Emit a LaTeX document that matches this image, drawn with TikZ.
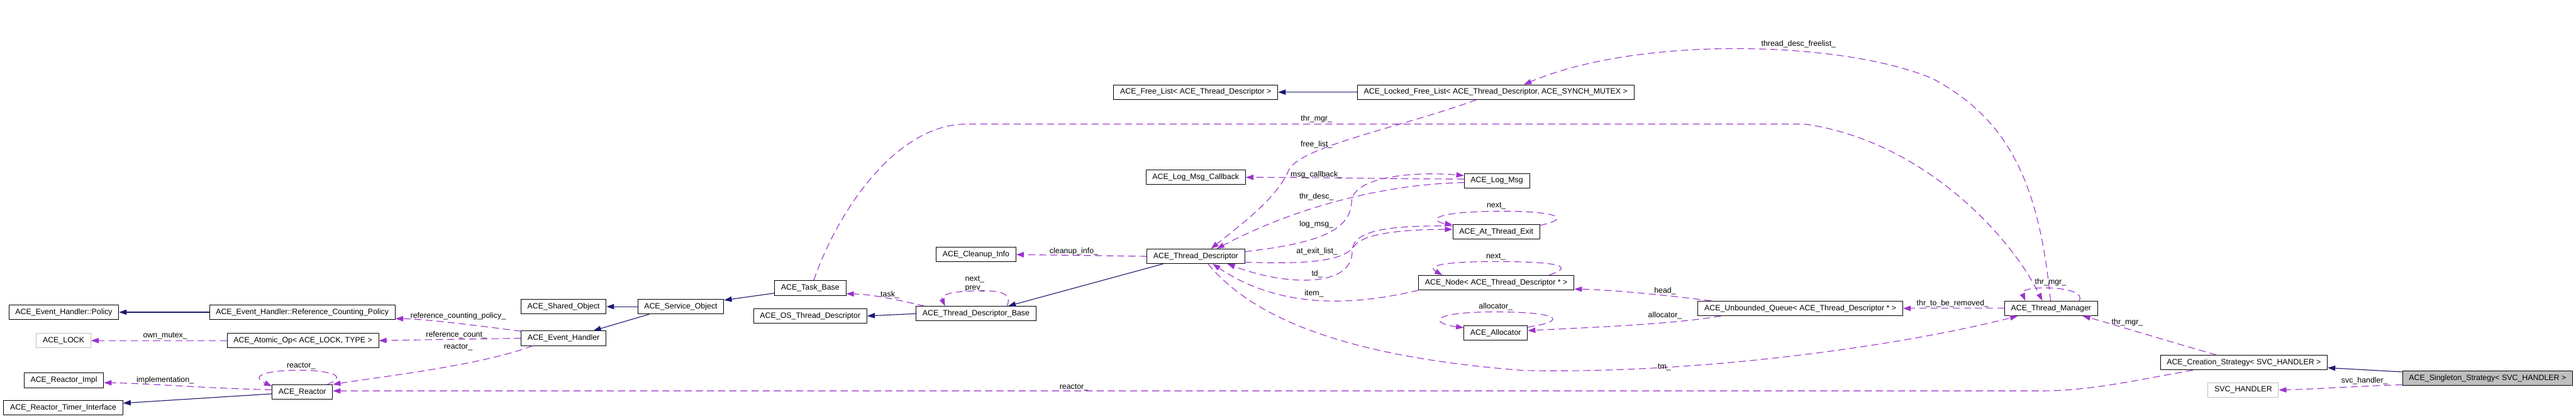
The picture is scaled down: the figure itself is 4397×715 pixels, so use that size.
\documentclass[tikz,border=0pt]{standalone}
\usepackage{fontspec}
\setmainfont{Liberation Sans}
\usepackage{xcolor}
\definecolor{inhblue}{HTML}{191970}
\definecolor{usepurple}{HTML}{9A32CD}
\definecolor{extgray}{HTML}{BFBFBF}
\usepackage{tikz}
\usetikzlibrary{arrows.meta}

\tikzset{
	cls/.style={draw=black, fill=white, line width=1pt, inner xsep=11pt, inner ysep=0pt, minimum height=25pt, font=\fontsize{13.3}{15}\selectfont},
	extcls/.style={cls, draw=extgray},
	selcls/.style={cls, fill=extgray},
	inh/.style={draw=inhblue, line width=1.2pt, -{Triangle[length=13pt,width=9pt]}},
	member/.style={draw=usepurple, line width=1.2pt, dash pattern=on 12pt off 7pt, -{Triangle[length=13pt,width=9pt]}},
	lbl/.style={inner sep=0pt, font=\fontsize{13.3}{15}\selectfont}
}

\begin{document}
\begin{tikzpicture}[x=1pt,y=-1pt]
			\path[use as bounding box, fill=white] (0,0) rectangle (4397,715);
			% classes
			\node[cls] (pol) at (109,533.5) {ACE\_Event\_Handler::Policy};
			\node[cls] (rcp) at (516,533.5) {ACE\_Event\_Handler::Reference\_Counting\_Policy};
			\node[extcls] (lock) at (108.5,582) {ACE\_LOCK};
			\node[cls] (atomic) at (517,582) {ACE\_Atomic\_Op< ACE\_LOCK, TYPE >};
			\node[cls] (rimpl) at (109,650) {ACE\_Reactor\_Impl};
			\node[cls] (rti) at (108,697) {ACE\_Reactor\_Timer\_Interface};
			\node[cls] (reactor) at (516,670) {ACE\_Reactor};
			\node[cls] (shared) at (962,524) {ACE\_Shared\_Object};
			\node[cls] (service) at (1162,524) {ACE\_Service\_Object};
			\node[cls] (evh) at (962,578) {ACE\_Event\_Handler};
			\node[cls] (task) at (1383,492) {ACE\_Task\_Base};
			\node[cls] (ostd) at (1383,540) {ACE\_OS\_Thread\_Descriptor};
			\node[cls] (cleanup) at (1666,435) {ACE\_Cleanup\_Info};
			\node[cls] (tdb) at (1666,536) {ACE\_Thread\_Descriptor\_Base};
			\node[cls] (td) at (2041,438) {ACE\_Thread\_Descriptor};
			\node[cls] (freelist) at (2041,157.5) {ACE\_Free\_List< ACE\_Thread\_Descriptor >};
			\node[cls] (lfl) at (2553,157.5) {ACE\_Locked\_Free\_List< ACE\_Thread\_Descriptor, ACE\_SYNCH\_MUTEX >};
			\node[cls] (lmcb) at (2041,303) {ACE\_Log\_Msg\_Callback};
			\node[cls] (logmsg) at (2555,309) {ACE\_Log\_Msg};
			\node[cls] (ate) at (2554,396) {ACE\_At\_Thread\_Exit};
			\node[cls] (tnode) at (2554,483) {ACE\_Node< ACE\_Thread\_Descriptor * >};
			\node[cls] (alloc) at (2553,569) {ACE\_Allocator};
			\node[cls] (uq) at (3073,527) {ACE\_Unbounded\_Queue< ACE\_Thread\_Descriptor * >};
			\node[cls] (tm) at (3501,527) {ACE\_Thread\_Manager};
			\node[cls] (cs) at (3830,619.5) {ACE\_Creation\_Strategy< SVC\_HANDLER >};
			\node[extcls] (svc) at (3829,666.5) {SVC\_HANDLER};
			\node[selcls] (ss) at (4246,646.5) {ACE\_Singleton\_Strategy< SVC\_HANDLER >};
			
			% inheritance
			\draw[inh] (rcp.west) -- (pol.east);
			\draw[inh] (lfl.west) -- (freelist.east);
			\draw[inh] (service.west) -- (shared.east);
			\draw[inh] ([xshift=20pt]service.south west) -- ([xshift=-22pt]evh.north east);
			\draw[inh] ([yshift=4pt]task.south west) -- ([yshift=-2pt]service.north east);
			\draw[inh] (tdb.west) -- (ostd.east);
			\draw[inh] ([xshift=28pt]td.south west) -- ([xshift=-48pt]tdb.north east);
			\draw[inh] ([yshift=-3pt]reactor.west) -- ([yshift=8pt]rti.east);
			\draw[inh] ([yshift=-2pt]ss.north west) -- ([yshift=4pt]cs.south east);
			
			% members
			\draw[member] (atomic.west) -- (lock.east);
			\draw[member] ([yshift=-1pt]evh.north west) .. controls (790,553) and (720,545) .. ([yshift=2pt]rcp.south east);
			\draw[member] (evh.west) -- (atomic.east);
			\draw[member] ([xshift=20pt]evh.south west) .. controls (820,625) and (640,645) .. (reactor.north east);
			\draw[member] ([xshift=-10pt]reactor.north east) .. controls (640,625) and (390,625) .. ([yshift=-3pt]reactor.north west);
			\draw[member] ([yshift=4pt]reactor.west) .. controls (360,664) and (250,655) .. ([yshift=-4pt]rimpl.east);
			\draw[member] ([xshift=-87pt]cs.south) .. controls (3620,655) and (3560,668) .. (3480,668) -- ([yshift=2pt]reactor.east);
			\draw[member] ([yshift=2pt]ss.south west) .. controls (4020,660) and (3950,665) .. (svc.east);
			\draw[member] ([xshift=-47pt]cs.north) .. controls (3690,580) and (3600,552) .. ([xshift=-26pt]tm.south east);
			\draw[member] (tm.west) -- (uq.east);
			\draw[member] ([xshift=-32pt]tm.north east) .. controls (3565,488) and (3445,486) .. ([xshift=36pt]tm.north west);
			\draw[member] ([xshift=6pt]task.north) .. controls (1430,360) and (1530,212) .. (1650,212) -- (3080,212) .. controls (3280,240) and (3430,400) .. ([xshift=-15pt]tm.north);
			\draw[member] ([xshift=-1pt]tm.north) .. controls (3480,300) and (3420,200) .. (3300,135) .. controls (3150,70) and (2800,60) .. ([xshift=48pt]lfl.north);
			\draw[member] ([xshift=-33pt]lfl.south) .. controls (2400,215) and (2220,250) .. (2200,290) .. controls (2180,340) and (2110,390) .. ([xshift=26pt]td.north);
			\draw[member] ([yshift=3pt]logmsg.west) .. controls (2400,306) and (2250,303) .. (lmcb.east);
			\draw[member] ([yshift=-3pt]logmsg.west) .. controls (2350,315) and (2200,360) .. ([xshift=36pt]td.north);
			\draw[member] ([yshift=8pt]td.east) .. controls (2260,415) and (2305,390) .. (2307,345) .. controls (2309,300) and (2420,293) .. ([yshift=-4pt]logmsg.north west);
			\draw[member] ([yshift=-10pt]td.east) .. controls (2240,452) and (2295,445) .. (2312,420) .. controls (2330,395) and (2420,392) .. ([yshift=4pt]ate.west);
			\draw[member] ([yshift=10pt]ate.west) .. controls (2380,386) and (2308,390) .. (2308,430) .. controls (2308,490) and (2200,490) .. ([xshift=54pt]td.south);
			\draw[member] ([yshift=-2pt]ate.north east) .. controls (2690,372) and (2650,360) .. (2554,361) .. controls (2440,362) and (2440,378) .. ([yshift=-1pt]ate.north west);
			\draw[member] ([xshift=-43pt]tnode.north east) .. controls (2690,455) and (2660,447) .. (2553,447) .. controls (2440,447) and (2440,458) .. ([xshift=41pt]tnode.north west);
			\draw[member] ([xshift=23pt]uq.north west) .. controls (2850,505) and (2750,495) .. ([yshift=2pt]tnode.south east);
			\draw[member] ([yshift=-3pt]alloc.north east) .. controls (2680,548) and (2660,533) .. (2553,533) .. controls (2440,533) and (2440,552) .. ([yshift=-4pt]alloc.north west);
			\draw[member] ([xshift=40pt]uq.south west) .. controls (2850,555) and (2700,560) .. ([yshift=4pt]alloc.east);
			\draw[member] (tnode.south west) .. controls (2300,525) and (2180,525) .. ([xshift=29pt]td.south);
			\draw[member] ([xshift=21pt]td.south) .. controls (2140,545) and (2300,610) .. (2600,633) .. controls (2900,640) and (3250,590) .. ([xshift=-57pt]tm.south);
			\draw[member] ([xshift=15pt]tdb.north west) .. controls (1530,512) and (1490,503) .. ([yshift=-10pt]task.east);
			\draw[member] ([xshift=-50pt]tdb.north east) .. controls (1730,498) and (1700,496) .. (1664,497) .. controls (1620,498) and (1605,505) .. ([xshift=50pt]tdb.north west);
			\draw[member] (td.west) -- (cleanup.east);
			
			% labels
			\node[lbl] (lmutex) at (282,574) {own\_mutex\_};
			\node[lbl] (limpl) at (282,650) {implementation\_};
			\node[lbl] (lreact1) at (514,626) {reactor\_};
			\node[lbl] (lrcp) at (782,540) {reference\_counting\_policy\_};
			\node[lbl] (lrc) at (779,572) {reference\_count\_};
			\node[lbl] (lreact2) at (782,593) {reactor\_};
			\node[lbl] (lcleanup) at (1833,430) {cleanup\_info\_};
			\node[lbl, align=left] (lnextprev) at (1664,485) {next\_\\prev\_};
			\node[lbl] (ltask) at (1519,504) {task\_};
			\node[lbl] (lreact3) at (1833,662) {reactor\_};
			\node[lbl] (lthrmgr1) at (2247,203) {thr\_mgr\_};
			\node[lbl] (lfree) at (2247,247) {free\_list\_};
			\node[lbl] (lmsgcb) at (2247,299) {msg\_callback\_};
			\node[lbl] (lthrdesc) at (2247,336) {thr\_desc\_};
			\node[lbl] (llogmsg) at (2247,384) {log\_msg\_};
			\node[lbl] (latexit) at (2248,430) {at\_exit\_list\_};
			\node[lbl] (ltd) at (2248,468) {td\_};
			\node[lbl] (litem) at (2243,502) {item\_};
			\node[lbl] (lnext1) at (2554,352) {next\_};
			\node[lbl] (lnext2) at (2553,439) {next\_};
			\node[lbl] (lalloc1) at (2553,524) {allocator\_};
			\node[lbl] (lhead) at (2842,497) {head\_};
			\node[lbl] (lalloc2) at (2842,539) {allocator\_};
			\node[lbl] (ltm) at (2841,628) {tm\_};
			\node[lbl] (lfreelist) at (3070,75) {thread\_desc\_freelist\_};
			\node[lbl] (lremoved) at (3333,519) {thr\_to\_be\_removed\_};
			\node[lbl] (lthrmgr2) at (3500,482) {thr\_mgr\_};
			\node[lbl] (lthrmgr3) at (3631,551) {thr\_mgr\_};
			\node[lbl] (lsvc) at (4036,651) {svc\_handler\_};
\end{tikzpicture}
\end{document}
